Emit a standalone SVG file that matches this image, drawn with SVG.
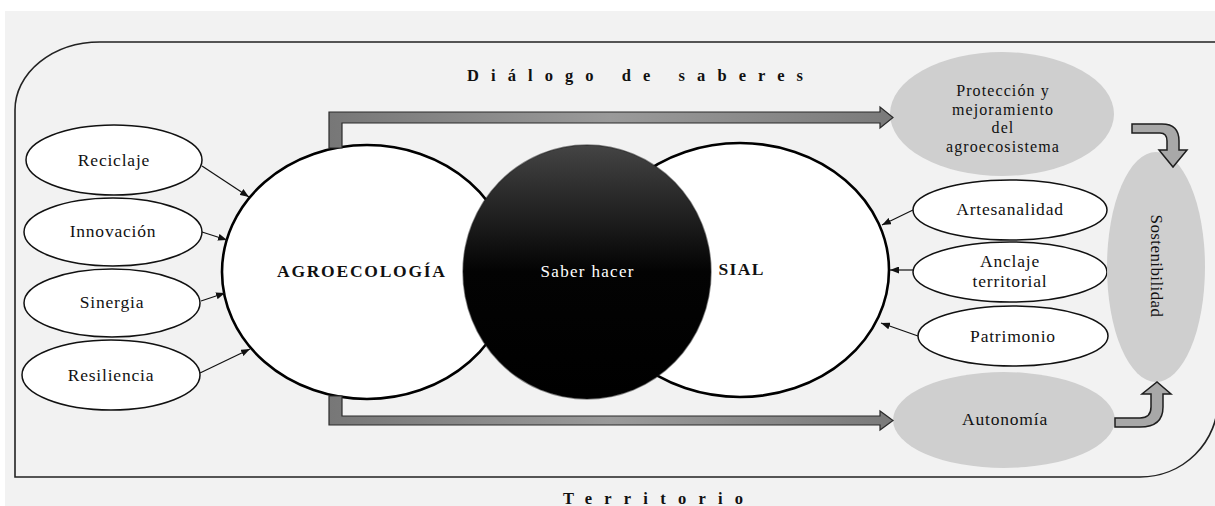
<svg xmlns="http://www.w3.org/2000/svg" width="1215" height="506" viewBox="0 0 1215 506">
  <style>
    .lbl { font-family: "Liberation Serif", "Times New Roman", serif; font-size: 17.5px; letter-spacing: 0.8px; fill: #111; text-anchor: middle; }
    .lbl2 { font-family: "Liberation Serif", "Times New Roman", serif; font-size: 16px; letter-spacing: 1.1px; fill: #111; text-anchor: middle; }
    .big { font-family: "Liberation Serif", "Times New Roman", serif; font-size: 17.5px; font-weight: bold; fill: #111; text-anchor: middle; }
    .spaced { font-family: "Liberation Serif", "Times New Roman", serif; font-size: 16.5px; font-weight: bold; fill: #111; }
    .wnode { fill: #ffffff; stroke: #111; stroke-width: 1.5; }
    .gnode { fill: #cfcfcf; stroke: none; }
    .main { fill: #ffffff; stroke: #000; stroke-width: 2.6; }
    .thin { stroke: #111; stroke-width: 1.2; fill: none; marker-end: url(#ah); }
    .bar { fill: url(#barGrad); stroke: #2a2a2a; stroke-width: 1.2; }
    .curve { fill: #a8a8a8; stroke: #1e1e1e; stroke-width: 1.5; }
  </style>
  <defs>
    <marker id="ah" markerUnits="userSpaceOnUse" markerWidth="9" markerHeight="7" refX="9" refY="3.5" orient="auto">
      <path d="M0,0 L9,3.5 L0,7 Z" fill="#111"/>
    </marker>
    <linearGradient id="barGrad" x1="0" y1="0" x2="1" y2="0">
      <stop offset="0" stop-color="#777"/>
      <stop offset="0.5" stop-color="#9a9a9a"/>
      <stop offset="1" stop-color="#7a7a7a"/>
    </linearGradient>
    <linearGradient id="darkGrad" x1="0" y1="0" x2="0" y2="1">
      <stop offset="0" stop-color="#444"/>
      <stop offset="0.5" stop-color="#030303"/>
      <stop offset="1" stop-color="#000"/>
    </linearGradient>
  </defs>

  <rect x="0" y="0" width="1215" height="506" fill="#ffffff"/>
  <rect x="5" y="11" width="1210" height="495" fill="#f2f2f2"/>

  <g id="territorio">
    <path d="M15,477 L15,110 A85,68 0 0 1 100,42 L1218,42 L1218,400 A78,77 0 0 1 1140,477 Z" fill="none" stroke="#222" stroke-width="1.6"/>
    <text class="spaced" x="563" y="504" textLength="180" lengthAdjust="spacing">Territorio</text>
  </g>

  <g id="dialogo">
    <text class="spaced" x="467" y="81" textLength="336" lengthAdjust="spacing">Diálogo de saberes</text>
  </g>

  <g id="reciclaje">
    <ellipse class="wnode" cx="114" cy="160" rx="88" ry="35"/>
    <text class="lbl" x="114" y="166">Reciclaje</text>
  </g>
  <g id="innovacion">
    <ellipse class="wnode" cx="113" cy="232" rx="89" ry="34"/>
    <text class="lbl" x="113" y="237">Innovación</text>
  </g>
  <g id="sinergia">
    <ellipse class="wnode" cx="112" cy="303" rx="88" ry="34"/>
    <text class="lbl" x="112" y="308">Sinergia</text>
  </g>
  <g id="resiliencia">
    <ellipse class="wnode" cx="111" cy="375" rx="89" ry="35"/>
    <text class="lbl" x="111" y="381">Resiliencia</text>
  </g>

  <g id="agroecologia">
    <ellipse class="main" cx="367" cy="272" rx="145" ry="127"/>
    <text class="big" x="361" y="277" textLength="168" lengthAdjust="spacing">AGROECOLOGÍA</text>
  </g>
  <g id="sial">
    <ellipse class="main" cx="740" cy="270" rx="149" ry="127"/>
    <text class="big" x="741" y="275" textLength="45" lengthAdjust="spacing">SIAL</text>
  </g>
  <g id="saber-hacer">
    <ellipse cx="587" cy="272" rx="124" ry="127" fill="url(#darkGrad)" stroke="#1a1a1a" stroke-opacity="0.5" stroke-width="1.5"/>
    <text x="587" y="277" font-family="Liberation Serif, Times New Roman, serif" font-size="17" fill="#ffffff" text-anchor="middle" textLength="93" lengthAdjust="spacing">Saber hacer</text>
  </g>

  <g id="proteccion">
    <ellipse class="gnode" cx="1002" cy="114" rx="112" ry="62"/>
    <text class="lbl2" x="1003" y="96">Protección y</text>
    <text class="lbl2" x="1003" y="114.5">mejoramiento</text>
    <text class="lbl2" x="1003" y="133">del</text>
    <text class="lbl2" x="1003" y="151.5">agroecosistema</text>
  </g>
  <g id="artesanalidad">
    <ellipse class="wnode" cx="1010" cy="210" rx="97" ry="30"/>
    <text class="lbl" x="1010" y="215">Artesanalidad</text>
  </g>
  <g id="anclaje">
    <ellipse class="wnode" cx="1010" cy="272" rx="97" ry="30"/>
    <text class="lbl" x="1010" y="267">Anclaje</text>
    <text class="lbl" x="1010" y="287">territorial</text>
  </g>
  <g id="patrimonio">
    <ellipse class="wnode" cx="1013" cy="336" rx="95" ry="30"/>
    <text class="lbl" x="1013" y="342">Patrimonio</text>
  </g>
  <g id="autonomia">
    <ellipse class="gnode" cx="1004" cy="420" rx="111" ry="48"/>
    <text class="lbl" x="1005" y="425">Autonomía</text>
  </g>
  <g id="sostenibilidad">
    <ellipse class="gnode" cx="1156" cy="267" rx="49" ry="115"/>
    <text class="lbl" transform="translate(1151,266) rotate(90)" x="0" y="0" style="font-size:17px;letter-spacing:0.4px">Sostenibilidad</text>
  </g>

  <g id="connectors">
    <path class="bar" d="M329,148 L329,112 L880,112 L880,107 L893,117.5 L880,128 L880,123 L342,123 L342,148 Z"/>
    <path class="bar" d="M329,396 L329,425 L880,425 L880,430 L893,420.5 L880,411 L880,416 L342,416 L342,396 Z"/>
    <path class="curve" d="M1132,124 L1162,124 Q1179,124 1179,141 L1179,150 L1187,150 L1173,167 L1159,150 L1167,150 L1167,141 Q1167,133 1160,133 L1132,133 Z"/>
    <path class="curve" d="M1115,418 L1140,418 Q1151,418 1151,407 L1151,394 L1142,394 L1157,382 L1171,394 L1163,394 L1163,407 Q1163,427 1140,427 L1115,427 Z"/>
    <line class="thin" x1="202" y1="166" x2="249" y2="197"/>
    <line class="thin" x1="202" y1="232" x2="227" y2="240"/>
    <line class="thin" x1="201" y1="301" x2="225" y2="293"/>
    <line class="thin" x1="200" y1="373" x2="250" y2="349"/>
    <line class="thin" x1="913" y1="210" x2="882" y2="225"/>
    <line class="thin" x1="913" y1="270" x2="890" y2="270"/>
    <line class="thin" x1="918" y1="336" x2="881" y2="323"/>
  </g>
</svg>
